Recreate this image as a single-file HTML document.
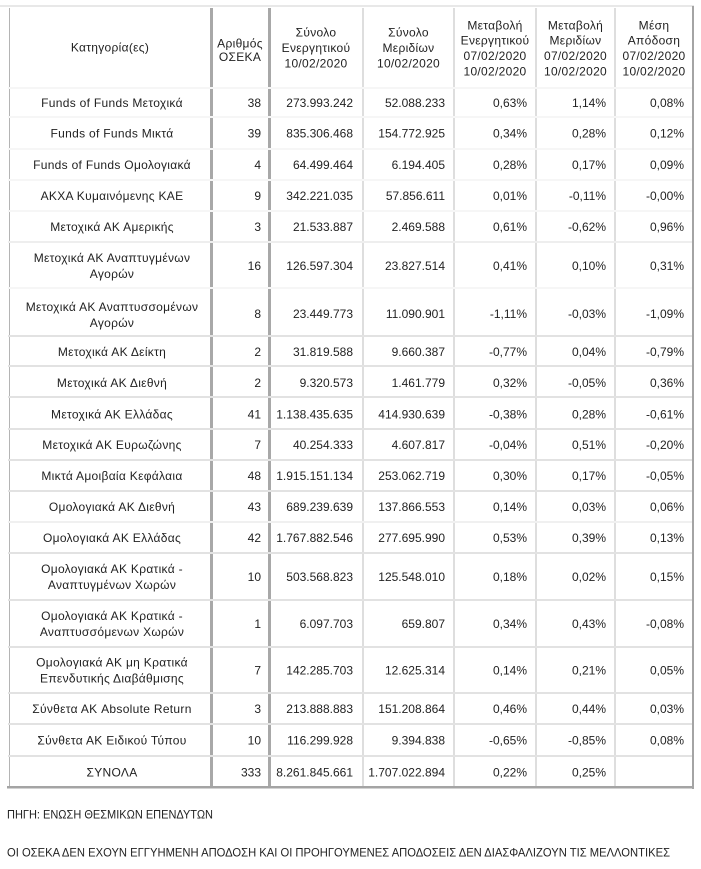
<!DOCTYPE html>
<html><head><meta charset="utf-8"><style>
html,body{margin:0;padding:0;background:#fff;}
svg{display:block;}
text{font-family:"Liberation Sans","Noto Sans CJK SC",sans-serif;font-size:12px;fill:#222;}
.c{text-anchor:middle;}
.r{text-anchor:end;}
.t{letter-spacing:0.3px;}
</style></head><body>
<svg width="701" height="869" viewBox="0 0 701 869" xmlns="http://www.w3.org/2000/svg">
<rect x="0" y="0" width="701" height="869" fill="#fff"/>
<rect x="0" y="5" width="694" height="2" fill="#e8e8e8"/>
<rect x="9" y="8" width="1" height="779" fill="#b4b4b4"/>
<rect x="210" y="8" width="3" height="779" fill="#a8a8a8"/>
<rect x="268" y="8" width="3" height="779" fill="#a8a8a8"/>
<rect x="362.5" y="8" width="1" height="779" fill="#bcbcbc"/>
<rect x="453.5" y="8" width="1" height="779" fill="#bcbcbc"/>
<rect x="535.5" y="8" width="1" height="779" fill="#bcbcbc"/>
<rect x="614.5" y="8" width="1" height="779" fill="#bcbcbc"/>
<rect x="692" y="6" width="2" height="783" fill="#a4a4a4"/>
<g>
<rect x="8" y="87" width="684" height="2" fill="#fff"/><rect x="8" y="87.5" width="684" height="1" fill="#ececec"/>
<rect x="8" y="116" width="684" height="2" fill="#fff"/><rect x="8" y="116.5" width="684" height="1" fill="#ececec"/>
<rect x="8" y="148" width="684" height="2" fill="#fff"/><rect x="8" y="148.5" width="684" height="1" fill="#ececec"/>
<rect x="8" y="179" width="684" height="2" fill="#fff"/><rect x="8" y="179.5" width="684" height="1" fill="#ececec"/>
<rect x="8" y="210" width="684" height="2" fill="#fff"/><rect x="8" y="210.5" width="684" height="1" fill="#ececec"/>
<rect x="8" y="241" width="684" height="2" fill="#fff"/><rect x="8" y="241.5" width="684" height="1" fill="#dcdcdc"/>
<rect x="8" y="287" width="684" height="2" fill="#fff"/><rect x="8" y="287.5" width="684" height="1" fill="#ececec"/>
<rect x="8" y="335" width="684" height="2" fill="#fff"/><rect x="8" y="335.5" width="684" height="1" fill="#c6c6c6"/>
<rect x="8" y="365" width="684" height="2" fill="#fff"/><rect x="8" y="365.5" width="684" height="1" fill="#c6c6c6"/>
<rect x="8" y="396" width="684" height="2" fill="#fff"/><rect x="8" y="396.5" width="684" height="1" fill="#c6c6c6"/>
<rect x="8" y="428" width="684" height="2" fill="#fff"/><rect x="8" y="428.5" width="684" height="1" fill="#c6c6c6"/>
<rect x="8" y="459" width="684" height="2" fill="#fff"/><rect x="8" y="459.5" width="684" height="1" fill="#c6c6c6"/>
<rect x="8" y="490" width="684" height="2" fill="#fff"/><rect x="8" y="490.5" width="684" height="1" fill="#c6c6c6"/>
<rect x="8" y="521" width="684" height="2" fill="#fff"/><rect x="8" y="521.5" width="684" height="1" fill="#e2e2e2"/>
<rect x="8" y="552" width="684" height="2" fill="#fff"/><rect x="8" y="552.5" width="684" height="1" fill="#c6c6c6"/>
<rect x="8" y="599" width="684" height="2" fill="#fff"/><rect x="8" y="599.5" width="684" height="1" fill="#c6c6c6"/>
<rect x="8" y="646" width="684" height="2" fill="#fff"/><rect x="8" y="646.5" width="684" height="1" fill="#c6c6c6"/>
<rect x="8" y="692" width="684" height="2" fill="#fff"/><rect x="8" y="692.5" width="684" height="1" fill="#c6c6c6"/>
<rect x="8" y="723" width="684" height="2" fill="#fff"/><rect x="8" y="723.5" width="684" height="1" fill="#c6c6c6"/>
<rect x="8" y="755" width="684" height="2" fill="#fff"/><rect x="8" y="755.5" width="684" height="1" fill="#c6c6c6"/>
</g>
<rect x="7" y="786" width="687" height="2.5" fill="#a4a4a4"/>

<g class="t">
<text class="c" x="110" y="51.5">Κατηγορία(ες)</text>
<text class="c" x="240" y="47.5">Αριθμός</text>
<text class="c" x="240" y="61">ΟΣΕΚΑ</text>
<text class="c" x="316" y="36.5">Σύνολο</text>
<text class="c" x="316" y="52">Ενεργητικού</text>
<text class="c" x="316" y="67.5">10/02/2020</text>
<text class="c" x="408.5" y="36.5">Σύνολο</text>
<text class="c" x="408.5" y="52">Μεριδίων</text>
<text class="c" x="408.5" y="67.5">10/02/2020</text>
<text class="c" x="495" y="29.5">Μεταβολή</text>
<text class="c" x="495" y="44.5">Ενεργητικού</text>
<text class="c" x="495" y="60">07/02/2020</text>
<text class="c" x="495" y="75.5">10/02/2020</text>
<text class="c" x="575.5" y="29.5">Μεταβολή</text>
<text class="c" x="575.5" y="44.5">Μεριδίων</text>
<text class="c" x="575.5" y="60">07/02/2020</text>
<text class="c" x="575.5" y="75.5">10/02/2020</text>
<text class="c" x="654" y="29.5">Μέση</text>
<text class="c" x="654" y="44.5">Απόδοση</text>
<text class="c" x="654" y="60">07/02/2020</text>
<text class="c" x="654" y="75.5">10/02/2020</text>
</g>

<g>
<text class="c t" x="112" y="107">Funds of Funds Μετοχικά</text>
<text class="r" x="261" y="107">38</text><text class="r" x="353" y="107">273.993.242</text><text class="r" x="445" y="107">52.088.233</text><text class="r" x="527" y="107">0,63%</text><text class="r" x="606" y="107">1,14%</text><text class="r" x="684" y="107">0,08%</text>

<text class="c t" x="112" y="137.5">Funds of Funds Μικτά</text>
<text class="r" x="261" y="137.5">39</text><text class="r" x="353" y="137.5">835.306.468</text><text class="r" x="445" y="137.5">154.772.925</text><text class="r" x="527" y="137.5">0,34%</text><text class="r" x="606" y="137.5">0,28%</text><text class="r" x="684" y="137.5">0,12%</text>

<text class="c t" x="112" y="169">Funds of Funds Ομολογιακά</text>
<text class="r" x="261" y="169">4</text><text class="r" x="353" y="169">64.499.464</text><text class="r" x="445" y="169">6.194.405</text><text class="r" x="527" y="169">0,28%</text><text class="r" x="606" y="169">0,17%</text><text class="r" x="684" y="169">0,09%</text>

<text class="c t" x="112" y="200">ΑΚΧΑ Κυμαινόμενης ΚΑΕ</text>
<text class="r" x="261" y="200">9</text><text class="r" x="353" y="200">342.221.035</text><text class="r" x="445" y="200">57.856.611</text><text class="r" x="527" y="200">0,01%</text><text class="r" x="606" y="200">-0,11%</text><text class="r" x="684" y="200">-0,00%</text>

<text class="c t" x="112" y="231">Μετοχικά ΑΚ Αμερικής</text>
<text class="r" x="261" y="231">3</text><text class="r" x="353" y="231">21.533.887</text><text class="r" x="445" y="231">2.469.588</text><text class="r" x="527" y="231">0,61%</text><text class="r" x="606" y="231">-0,62%</text><text class="r" x="684" y="231">0,96%</text>

<text class="c t" x="112" y="262">Μετοχικά ΑΚ Αναπτυγμένων</text>
<text class="c t" x="112" y="278">Αγορών</text>
<text class="r" x="261" y="270">16</text><text class="r" x="353" y="270">126.597.304</text><text class="r" x="445" y="270">23.827.514</text><text class="r" x="527" y="270">0,41%</text><text class="r" x="606" y="270">0,10%</text><text class="r" x="684" y="270">0,31%</text>

<text class="c t" x="112" y="311">Μετοχικά ΑΚ Αναπτυσσομένων</text>
<text class="c t" x="112" y="327">Αγορών</text>
<text class="r" x="261" y="318">8</text><text class="r" x="353" y="318">23.449.773</text><text class="r" x="445" y="318">11.090.901</text><text class="r" x="527" y="318">-1,11%</text><text class="r" x="606" y="318">-0,03%</text><text class="r" x="684" y="318">-1,09%</text>

<text class="c t" x="112" y="356">Μετοχικά ΑΚ Δείκτη</text>
<text class="r" x="261" y="356">2</text><text class="r" x="353" y="356">31.819.588</text><text class="r" x="445" y="356">9.660.387</text><text class="r" x="527" y="356">-0,77%</text><text class="r" x="606" y="356">0,04%</text><text class="r" x="684" y="356">-0,79%</text>

<text class="c t" x="112" y="387">Μετοχικά ΑΚ Διεθνή</text>
<text class="r" x="261" y="387">2</text><text class="r" x="353" y="387">9.320.573</text><text class="r" x="445" y="387">1.461.779</text><text class="r" x="527" y="387">0,32%</text><text class="r" x="606" y="387">-0,05%</text><text class="r" x="684" y="387">0,36%</text>

<text class="c t" x="112" y="418.5">Μετοχικά ΑΚ Ελλάδας</text>
<text class="r" x="261" y="418.5">41</text><text class="r" x="353" y="418.5">1.138.435.635</text><text class="r" x="445" y="418.5">414.930.639</text><text class="r" x="527" y="418.5">-0,38%</text><text class="r" x="606" y="418.5">0,28%</text><text class="r" x="684" y="418.5">-0,61%</text>

<text class="c t" x="112" y="449">Μετοχικά ΑΚ Ευρωζώνης</text>
<text class="r" x="261" y="449">7</text><text class="r" x="353" y="449">40.254.333</text><text class="r" x="445" y="449">4.607.817</text><text class="r" x="527" y="449">-0,04%</text><text class="r" x="606" y="449">0,51%</text><text class="r" x="684" y="449">-0,20%</text>

<text class="c t" x="112" y="480">Μικτά Αμοιβαία Κεφάλαια</text>
<text class="r" x="261" y="480">48</text><text class="r" x="353" y="480">1.915.151.134</text><text class="r" x="445" y="480">253.062.719</text><text class="r" x="527" y="480">0,30%</text><text class="r" x="606" y="480">0,17%</text><text class="r" x="684" y="480">-0,05%</text>

<text class="c t" x="112" y="511">Ομολογιακά ΑΚ Διεθνή</text>
<text class="r" x="261" y="511">43</text><text class="r" x="353" y="511">689.239.639</text><text class="r" x="445" y="511">137.866.553</text><text class="r" x="527" y="511">0,14%</text><text class="r" x="606" y="511">0,03%</text><text class="r" x="684" y="511">0,06%</text>

<text class="c t" x="112" y="542">Ομολογιακά ΑΚ Ελλάδας</text>
<text class="r" x="261" y="542">42</text><text class="r" x="353" y="542">1.767.882.546</text><text class="r" x="445" y="542">277.695.990</text><text class="r" x="527" y="542">0,53%</text><text class="r" x="606" y="542">0,39%</text><text class="r" x="684" y="542">0,13%</text>

<text class="c t" x="112" y="573">Ομολογιακά ΑΚ Κρατικά -</text>
<text class="c t" x="112" y="589">Αναπτυγμένων Χωρών</text>
<text class="r" x="261" y="581">10</text><text class="r" x="353" y="581">503.568.823</text><text class="r" x="445" y="581">125.548.010</text><text class="r" x="527" y="581">0,18%</text><text class="r" x="606" y="581">0,02%</text><text class="r" x="684" y="581">0,15%</text>

<text class="c t" x="112" y="620">Ομολογιακά ΑΚ Κρατικά -</text>
<text class="c t" x="112" y="636">Αναπτυσσόμενων Χωρών</text>
<text class="r" x="261" y="628">1</text><text class="r" x="353" y="628">6.097.703</text><text class="r" x="445" y="628">659.807</text><text class="r" x="527" y="628">0,34%</text><text class="r" x="606" y="628">0,43%</text><text class="r" x="684" y="628">-0,08%</text>

<text class="c t" x="112" y="666.5">Ομολογιακά ΑΚ μη Κρατικά</text>
<text class="c t" x="112" y="682.5">Επενδυτικής Διαβάθμισης</text>
<text class="r" x="261" y="674.5">7</text><text class="r" x="353" y="674.5">142.285.703</text><text class="r" x="445" y="674.5">12.625.314</text><text class="r" x="527" y="674.5">0,14%</text><text class="r" x="606" y="674.5">0,21%</text><text class="r" x="684" y="674.5">0,05%</text>

<text class="c t" x="112" y="713">Σύνθετα ΑΚ Absolute Return</text>
<text class="r" x="261" y="713">3</text><text class="r" x="353" y="713">213.888.883</text><text class="r" x="445" y="713">151.208.864</text><text class="r" x="527" y="713">0,46%</text><text class="r" x="606" y="713">0,44%</text><text class="r" x="684" y="713">0,03%</text>

<text class="c t" x="112" y="744.5">Σύνθετα ΑΚ Ειδικού Τύπου</text>
<text class="r" x="261" y="744.5">10</text><text class="r" x="353" y="744.5">116.299.928</text><text class="r" x="445" y="744.5">9.394.838</text><text class="r" x="527" y="744.5">-0,65%</text><text class="r" x="606" y="744.5">-0,85%</text><text class="r" x="684" y="744.5">0,08%</text>

<text class="c t" x="112" y="776.5">ΣΥΝΟΛΑ</text>
<text class="r" x="261" y="776.5">333</text><text class="r" x="353" y="776.5">8.261.845.661</text><text class="r" x="445" y="776.5">1.707.022.894</text><text class="r" x="527" y="776.5">0,22%</text><text class="r" x="606" y="776.5">0,25%</text>
</g>

<text x="7" y="818.5" textLength="206" lengthAdjust="spacingAndGlyphs">ΠΗΓΗ: ΕΝΩΣΗ ΘΕΣΜΙΚΩΝ ΕΠΕΝΔΥΤΩΝ</text>
<text x="7" y="856.5" textLength="663" lengthAdjust="spacingAndGlyphs">ΟΙ ΟΣΕΚΑ ΔΕΝ ΕΧΟΥΝ ΕΓΓΥΗΜΕΝΗ ΑΠΟΔΟΣΗ ΚΑΙ ΟΙ ΠΡΟΗΓΟΥΜΕΝΕΣ ΑΠΟΔΟΣΕΙΣ ΔΕΝ ΔΙΑΣΦΑΛΙΖΟΥΝ ΤΙΣ ΜΕΛΛΟΝΤΙΚΕΣ</text>
</svg>
</body></html>
